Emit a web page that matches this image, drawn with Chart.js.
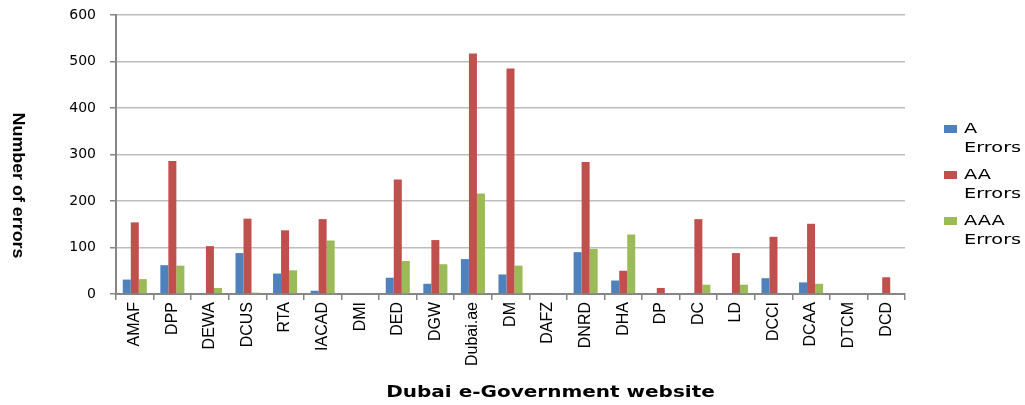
<!DOCTYPE html>
<html>
<head>
<meta charset="utf-8">
<script src="https://cdn.jsdelivr.net/npm/chart.js@4.4.1/dist/chart.umd.min.js"></script>
<style>
  body { margin: 0; background: #fff; }
  #wrap { position: relative; width: 1025px; height: 405px; }
  #legend { position: absolute; left: 944px; top: 119px; font: 14px "DejaVu Sans", sans-serif; color: #000; }
  .item { position: relative; height: 46px; }
  .box { position: absolute; left: 0; top: 6px; width: 13px; height: 8px; }
  .txt { position: absolute; left: 20px; top: 0; line-height: 19px; transform: scaleX(1.38); transform-origin: left top; white-space: nowrap; }
</style>
</head>
<body>
<div id="wrap">
  <canvas id="chart" width="1025" height="405"></canvas>
  <div id="legend"></div>
</div>
<script>
const sites = ["AMAF", "DPP", "DEWA", "DCUS", "RTA", "IACAD", "DMI", "DED", "DGW", "Dubai.ae",
  "DM", "DAFZ", "DNRD", "DHA", "DP", "DC", "LD", "DCCI", "DCAA", "DTCM", "DCD"];

// errors per website
const aErrors   = [31, 62, 0, 88, 44, 7, 0, 35, 22, 75, 42, 2, 90, 29, 0, 2, 2, 34, 25, 0, 2];
const aaErrors  = [154, 286, 103, 162, 137, 161, 0, 246, 116, 517, 485, 2, 284, 50, 13, 161, 88, 123, 151, 0, 36];
const aaaErrors = [32, 61, 13, 3, 51, 115, 0, 71, 64, 216, 61, 0, 97, 128, 0, 20, 20, 0, 22, 0, 0];

const seriesNames = ["A Errors", "AA Errors", "AAA Errors"];
const seriesColors = ["#4F81BD", "#C0504D", "#9BBB59"];
const yTicks = [0, 100, 200, 300, 400, 500, 600];

const xTitle = "Dubai e-Government website";
const yTitle = "Number of errors";

// axis titles are placed a bit off-centre like the original
const axisTitles = {
  id: "axisTitles",
  afterDraw(chart) {
    const ctx = chart.ctx;
    const area = chart.chartArea;
    ctx.save();
    ctx.fillStyle = "#000";
    ctx.textAlign = "center";
    ctx.textBaseline = "middle";
    ctx.font = 'bold 16px "DejaVu Sans"';
    ctx.translate((area.left + area.right) / 2 + 40, chart.height - 12);
    ctx.scale(1.25, 1);
    ctx.fillText(xTitle, 0, 0);
    ctx.restore();

    ctx.save();
    ctx.fillStyle = "#000";
    ctx.textAlign = "center";
    ctx.textBaseline = "middle";
    ctx.font = 'bold 17px "Liberation Sans Narrow", "Liberation Sans"';
    ctx.translate(18, (area.top + area.bottom) / 2 + 31);
    ctx.rotate(Math.PI / 2);
    ctx.scale(1.05, 1);
    ctx.fillText(yTitle, 0, 0);
    ctx.restore();
  }
};

const values = [aErrors, aaErrors, aaaErrors];

const chart = new Chart(document.getElementById("chart"), {
  type: "bar",
  plugins: [axisTitles],
  data: {
    labels: sites,
    datasets: values.map((v, i) => ({
      label: seriesNames[i],
      data: v,
      backgroundColor: seriesColors[i],
      barPercentage: 1,
      categoryPercentage: 0.64
    }))
  },
  options: {
    responsive: false,
    animation: false,
    layout: { padding: { left: 0, right: 120, top: 15, bottom: 0 } },
    plugins: { legend: { display: false }, tooltip: { enabled: false } },
    scales: {
      x: {
        afterFit: (s) => { s.height = 111; s.paddingLeft = 0; s.paddingRight = 0; },
        border: { color: "#868686", width: 2 },
        grid: { drawOnChartArea: false, drawTicks: true, tickLength: 6, color: "#868686", lineWidth: 1.5, offset: true },
        ticks: {
          color: "#000",
          minRotation: 90,
          maxRotation: 90,
          autoSkip: false,
          padding: 2,
          font: { family: '"Liberation Sans Narrow", "Liberation Sans"', size: 16 }
        }
      },
      y: {
        min: 0,
        max: 600,
        afterFit: (s) => { s.width = 116; s.paddingTop = 0; s.paddingBottom = 0; },
        afterBuildTicks: (s) => { s.ticks = yTicks.map(v => ({ value: v })); },
        border: { color: "#868686", width: 2 },
        grid: { color: "#bdbdbd", lineWidth: 1.5, tickLength: 6, tickColor: "#868686" },
        ticks: {
          color: "#000",
          padding: 14,
          font: { family: '"DejaVu Sans"', size: 14 }
        }
      }
    }
  }
});

// legend, two lines per entry as in the original
const legend = document.getElementById("legend");
chart.data.datasets.forEach(ds => {
  const item = document.createElement("div");
  item.className = "item";
  const box = document.createElement("div");
  box.className = "box";
  box.style.background = ds.backgroundColor;
  const txt = document.createElement("div");
  txt.className = "txt";
  txt.innerHTML = ds.label.split(" ").join("<br>");
  item.appendChild(box);
  item.appendChild(txt);
  legend.appendChild(item);
});
</script>
</body>
</html>
